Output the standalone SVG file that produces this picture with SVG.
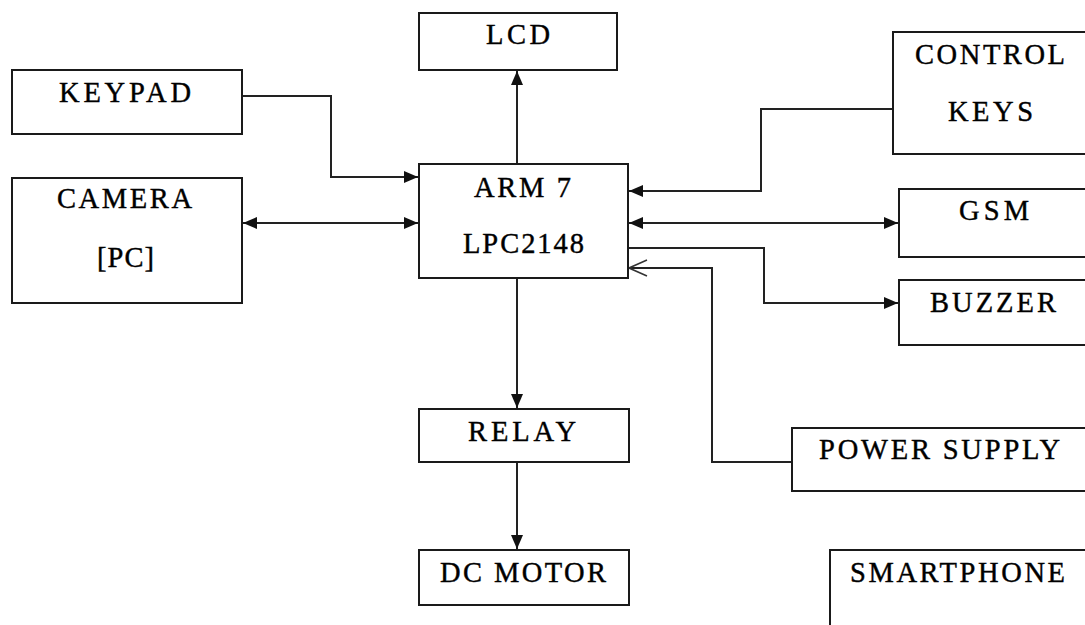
<svg xmlns="http://www.w3.org/2000/svg" width="1085" height="625" viewBox="0 0 1085 625">
<style>
.box{fill:#fff;stroke:#1a1a1a;stroke-width:2}
.t{font-family:"Liberation Serif","Times New Roman",serif;font-size:28.5px;fill:#000;stroke:#000;stroke-width:0.4}
.c{fill:none;stroke:#222;stroke-width:2}
</style>
<defs>
<marker id="arr" markerUnits="userSpaceOnUse" markerWidth="15" markerHeight="12" refX="14" refY="6" orient="auto-start-reverse">
<path d="M0,0 L14,6 L0,12 z" fill="#111"/>
</marker>
<marker id="open" markerUnits="userSpaceOnUse" markerWidth="20" markerHeight="18" refX="19" refY="9" orient="auto">
<path d="M1,1 L19,9 L1,17" fill="none" stroke="#333" stroke-width="1.5"/>
</marker>
</defs>
<rect width="1085" height="625" fill="#fff"/>
<g id="connectors">
<path class="c" d="M242,96 H331 V177 H418" marker-end="url(#arr)"/>
<path class="c" d="M243,223 H418" marker-start="url(#arr)" marker-end="url(#arr)"/>
<path class="c" d="M517,164 V71" marker-end="url(#arr)"/>
<path class="c" d="M893,109 H761 V191 H629" marker-end="url(#arr)"/>
<path class="c" d="M629,223 H898" marker-start="url(#arr)" marker-end="url(#arr)"/>
<path class="c" d="M628,248 H764 V303 H898" marker-end="url(#arr)"/>
<path class="c" d="M792,462 H712 V268 H629" marker-end="url(#open)"/>
<path class="c" d="M517,278 V408" marker-end="url(#arr)"/>
<path class="c" d="M517,462 V549" marker-end="url(#arr)"/>
</g>
<g id="keypad">
<rect class="box" x="12" y="70" width="230" height="64"/>
<text class="t" x="59" y="102" textLength="132" lengthAdjust="spacing">KEYPAD</text>
</g>
<g id="camera">
<rect class="box" x="12" y="178" width="230" height="125"/>
<text class="t" x="57" y="208" textLength="135" lengthAdjust="spacing">CAMERA</text>
<text class="t" x="97" y="267" textLength="57" lengthAdjust="spacing">[PC]</text>
</g>
<g id="lcd">
<rect class="box" x="419" y="13" width="198" height="57"/>
<text class="t" x="486" y="44" textLength="64" lengthAdjust="spacing">LCD</text>
</g>
<g id="arm">
<rect class="box" x="419" y="164" width="209" height="114"/>
<text class="t" x="474" y="197" textLength="97" lengthAdjust="spacing">ARM 7</text>
<text class="t" x="463" y="253" textLength="121" lengthAdjust="spacing">LPC2148</text>
</g>
<g id="control-keys">
<rect class="box" x="893" y="32" width="200" height="122"/>
<text class="t" x="915" y="64" textLength="150" lengthAdjust="spacing">CONTROL</text>
<text class="t" x="948" y="121" textLength="85" lengthAdjust="spacing">KEYS</text>
</g>
<g id="gsm">
<rect class="box" x="899" y="189" width="200" height="68"/>
<text class="t" x="959" y="220" textLength="70" lengthAdjust="spacing">GSM</text>
</g>
<g id="buzzer">
<rect class="box" x="899" y="280" width="200" height="65"/>
<text class="t" x="930" y="312" textLength="126" lengthAdjust="spacing">BUZZER</text>
</g>
<g id="power-supply">
<rect class="box" x="792" y="428" width="300" height="63"/>
<text class="t" x="819" y="459" textLength="241" lengthAdjust="spacing">POWER SUPPLY</text>
</g>
<g id="relay">
<rect class="box" x="419" y="409" width="210" height="53"/>
<text class="t" x="468" y="441" textLength="108" lengthAdjust="spacing">RELAY</text>
</g>
<g id="dc-motor">
<rect class="box" x="419" y="550" width="210" height="55"/>
<text class="t" x="440" y="582" textLength="166" lengthAdjust="spacing">DC MOTOR</text>
</g>
<g id="smartphone">
<rect class="box" x="830" y="550" width="270" height="100"/>
<text class="t" x="850" y="582" textLength="215" lengthAdjust="spacing">SMARTPHONE</text>
</g>
</svg>
